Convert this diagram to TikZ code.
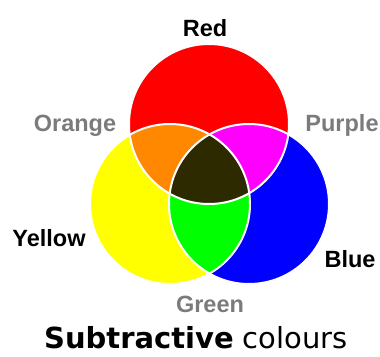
\documentclass[tikz,border=0pt]{standalone}
\usepackage{fontspec}
\newfontfamily\labfont{Liberation Sans}
\newfontfamily\ttlfont{DejaVu Sans}
\definecolor{cRed}{RGB}{255,0,0}
\definecolor{cYellow}{RGB}{255,255,0}
\definecolor{cBlue}{RGB}{0,0,255}
\definecolor{cOrange}{RGB}{255,136,0}
\definecolor{cPurple}{RGB}{255,0,255}
\definecolor{cGreen}{RGB}{0,255,0}
\definecolor{cDark}{RGB}{45,42,0}
\definecolor{cGrey}{RGB}{125,122,125}
\tikzset{
  lab/.style={anchor=base,inner sep=0pt,font=\labfont\bfseries\fontsize{23.5}{27}\selectfont},
  greylab/.style={lab,text=cGrey},
  blacklab/.style={lab,text=black},
  sep/.style={draw=white,line width=2pt}
}
\begin{document}
\begin{tikzpicture}[x=1pt,y=-1pt]
\useasboundingbox (0,0) rectangle (380,356);
\def\rr{80}
\coordinate (R) at (209,124);
\coordinate (Y) at (170,204);
\coordinate (B) at (249,204);
% base circles
\fill[cRed] (R) circle (\rr);
\fill[cYellow] (Y) circle (\rr);
\fill[cBlue] (B) circle (\rr);
% pairwise overlaps
\begin{scope}
  \clip (R) circle (\rr);
  \fill[cOrange] (Y) circle (\rr);
\end{scope}
\begin{scope}
  \clip (R) circle (\rr);
  \fill[cPurple] (B) circle (\rr);
\end{scope}
\begin{scope}
  \clip (Y) circle (\rr);
  \fill[cGreen] (B) circle (\rr);
\end{scope}
\begin{scope}
  \clip (R) circle (\rr);
  \clip (Y) circle (\rr);
  \fill[cDark] (B) circle (\rr);
\end{scope}
% white separating lines
\draw[sep] (R) circle (\rr);
\draw[sep] (Y) circle (\rr);
\draw[sep] (B) circle (\rr);
% labels
\node[blacklab] (lred) at (205,36) {Red};
\node[greylab] (lorange) at (75,131) {Orange};
\node[greylab] (lpurple) at (342,131) {Purple};
\node[blacklab] (lyellow) at (49,246) {Yellow};
\node[blacklab] (lblue) at (350,267) {Blue};
\node[greylab] (lgreen) at (210,312) {Green};
\node[anchor=base,inner sep=0pt,font=\ttlfont\fontsize{29}{34}\selectfont] (title) at (196,348) {\textbf{Subtractive} colours};
\end{tikzpicture}
\end{document}
